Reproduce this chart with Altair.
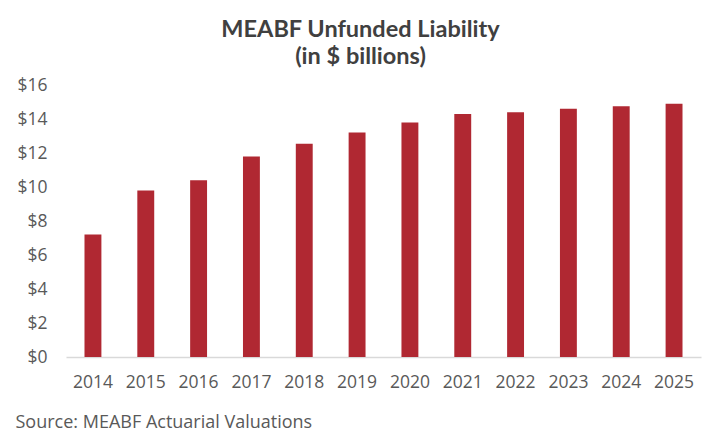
import altair as alt
import pandas as pd

years = ["2014", "2015", "2016", "2017", "2018", "2019",
         "2020", "2021", "2022", "2023", "2024", "2025"]
liability = [7.2, 9.8, 10.4, 11.8, 12.55, 13.2,
             13.8, 14.3, 14.4, 14.6, 14.75, 14.9]
y_ticks = [0, 2, 4, 6, 8, 10, 12, 14, 16]

df = pd.DataFrame({"year": years, "value": liability})

chart = (
    alt.Chart(df)
    .mark_bar(color="#B02832")
    .encode(
        x=alt.X(
            "year:N",
            sort=years,
            scale=alt.Scale(paddingInner=0.68, paddingOuter=0.35),
            axis=alt.Axis(
                title="Source: MEABF Actuarial Valuations",
                titleAnchor="start",
                titleAlign="left",
                titleX=-51,
                titleY=65,
                titleBaseline="middle",
                titleFont="Open Sans",
                titleFontSize=18,
                titleFontWeight="normal",
                titleColor="#595959",
                labelAngle=0,
                labelFont="Open Sans",
                labelFontSize=17.5,
                labelColor="#595959",
                labelPadding=16,
                ticks=False,
                domainColor="#D9D9D9",
                domainWidth=1.5,
            ),
        ),
        y=alt.Y(
            "value:Q",
            scale=alt.Scale(domain=[0, 16], nice=False),
            axis=alt.Axis(
                title=None,
                values=y_ticks,
                format="$.0f",
                labelFont="Open Sans",
                labelFontSize=17.5,
                labelColor="#595959",
                labelPadding=19,
                ticks=False,
                domain=False,
                grid=False,
            ),
        ),
    )
    .properties(
        width=635,
        height=272,
        title=alt.TitleParams(
            text=["MEABF Unfunded Liability", "(in $ billions)"],
            font="Lato",
            fontSize=23.5,
            fontWeight="bold",
            color="#404040",
            anchor="middle",
            frame="group",
            dx=-23,
            offset=8,
            lineHeight=27,
        ),
        autosize=alt.AutoSizeParams(type="none"),
        padding={"left": 58, "top": 77, "right": 11, "bottom": 79},
    )
    .configure_view(stroke=None)
)

chart.save("out.html", embed_options={"renderer": "svg", "actions": False})
